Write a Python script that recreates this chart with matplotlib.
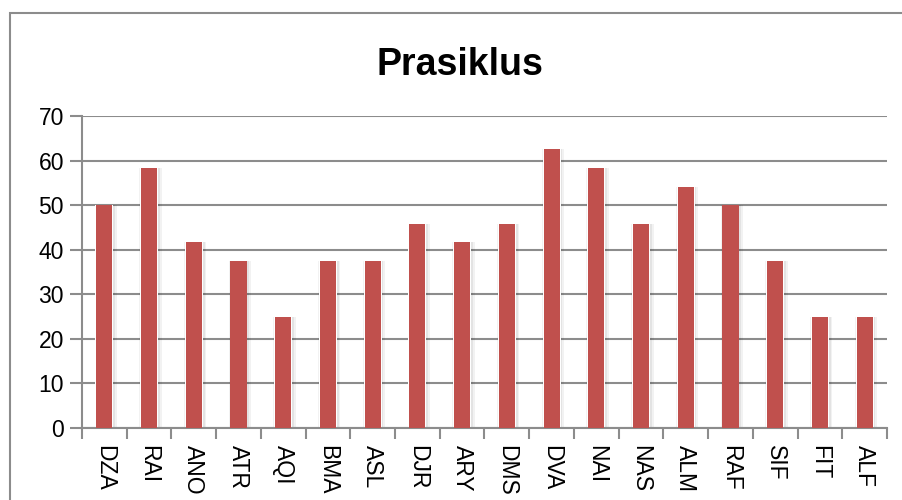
import matplotlib.pyplot as plt
from matplotlib.patches import Rectangle
import numpy as np

# data
names = ["DZA", "RAI", "ANO", "ATR", "AQI", "BMA", "ASL", "DJR", "ARY",
         "DMS", "DVA", "NAI", "NAS", "ALM", "RAF", "SIF", "FIT", "ALF"]
scores = [50, 58.33, 41.67, 37.5, 25, 37.5, 37.5, 45.83, 41.67,
          45.83, 62.5, 58.33, 45.83, 54.17, 50, 37.5, 25, 25]
yticks = [0, 10, 20, 30, 40, 50, 60, 70]

plt.rcParams['font.family'] = ['Liberation Sans', 'DejaVu Sans']

fig = plt.figure(figsize=(9.03, 5.0), dpi=100)
ax = fig.add_axes([82 / 903, 1 - 428 / 500, (887 - 82) / 903, (428 - 116) / 500])

x = np.arange(len(names))
grid_col = '#8c8c8c'

# soft glow/shadow around the bars
ax.bar(x + 0.03, scores, width=0.50, color='black', alpha=0.05, zorder=2)
ax.bar(x + 0.02, scores, width=0.44, color='black', alpha=0.06, zorder=2)
ax.bar(x, scores, width=0.40, color='white', zorder=2)
ax.bar(x, scores, width=0.36, color='#C0504D', zorder=3)

ax.set_xlim(-0.5, len(names) - 0.5)
ax.set_ylim(0, 70)
ax.set_yticks(yticks)
ax.set_yticklabels([str(v) for v in yticks], fontsize=16.5)
ax.yaxis.grid(True, color=grid_col, linewidth=1.5, zorder=0)
ax.set_axisbelow(True)

ax.set_xticks(list(x - 0.5) + [len(names) - 0.5])
ax.set_xticklabels([])
ax.set_xticks(x, minor=True)
ax.set_xticklabels(names, minor=True, rotation=270, fontsize=16.5, va='top', ha='center')
ax.tick_params(axis='x', which='minor', length=0, pad=12)
ax.tick_params(axis='x', which='major', length=8, width=1.5, color=grid_col)
ax.tick_params(axis='y', length=9, width=1.5, color=grid_col, pad=4)

for s in ['top', 'right']:
    ax.spines[s].set_visible(False)
for s in ['left', 'bottom']:
    ax.spines[s].set_color(grid_col)
    ax.spines[s].set_linewidth(1.5)

fig.text(460 / 903, 1 - 65 / 500, 'Prasiklus', fontsize=27, fontweight='bold',
         ha='center', va='center')

# chart frame
fig.patches.append(Rectangle((10 / 903, -0.1), 1.2, 1 - 13 / 500 + 0.1,
                             transform=fig.transFigure, fill=False,
                             edgecolor=grid_col, linewidth=1.5))

fig.savefig('out.png', dpi=100)
